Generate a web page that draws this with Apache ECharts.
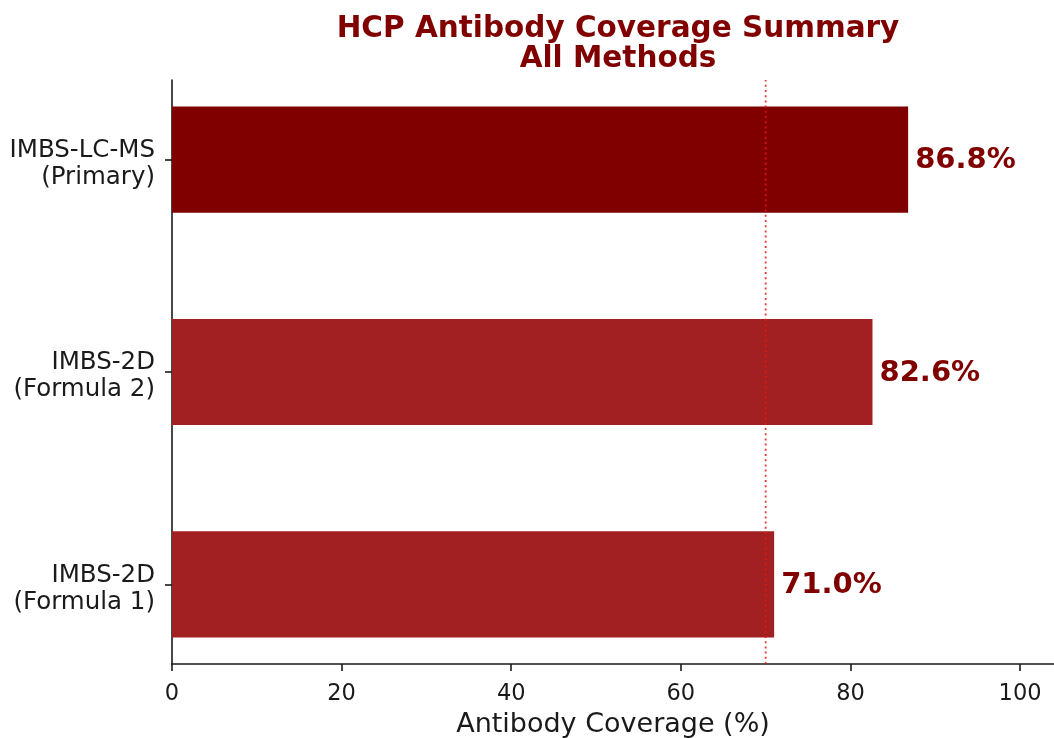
<!DOCTYPE html>
<html>
<head>
<meta charset="utf-8">
<title>HCP Antibody Coverage Summary</title>
<script src="https://cdn.jsdelivr.net/npm/echarts@6/dist/echarts.min.js"></script>
<style>
  html, body { margin: 0; padding: 0; background: #ffffff; }
  #chart { width: 1054px; height: 738px; }
</style>
</head>
<body>
<div id="chart"></div>
<script>
// Methods, bottom to top along the vertical axis
const methods = ['IMBS-2D\n(Formula 1)', 'IMBS-2D\n(Formula 2)', 'IMBS-LC-MS\n(Primary)'];
// Antibody coverage per method (%)
const coverage = [71.0, 82.6, 86.8];
// Tick values on the coverage axis
const xTicks = [0, 20, 40, 60, 80, 100];
// Reference coverage level (%)
const threshold = 70;

// Styling
const FONT = '"DejaVu Sans", "Liberation Sans", sans-serif';
const INK = '#1a1a1a';
const barColors = ['#a32022', '#a32022', '#800000'];
const BAR_HEIGHT = 0.5;
const Y_MIN = -0.375;
const Y_MAX = 2.375;

const barData = coverage.map((v, i) => [v, i]);

// Category label: a thin spacer line on top nudges the two text lines slightly below the tick
function methodLabel(v) {
  const lines = methods[Math.round(v)].split('\n');
  return '{s| }\n' + lines.map((t) => '{m|' + t + '}').join('\n');
}

const chart = echarts.init(document.getElementById('chart'), null, { renderer: 'canvas' });

chart.setOption({
  animation: false,
  backgroundColor: '#ffffff',
  title: {
    text: 'HCP Antibody Coverage Summary\nAll Methods',
    left: 618,
    top: 14,
    padding: 0,
    textAlign: 'center',
    textStyle: {
      fontFamily: FONT,
      fontSize: 29.5,
      fontWeight: 'bold',
      color: '#800000',
      lineHeight: 30
    }
  },
  grid: { left: 172, right: 0, top: 80, bottom: 74, containLabel: false, outerBoundsMode: 'none' },
  xAxis: {
    type: 'value',
    min: 0,
    max: 104,
    name: 'Antibody Coverage (%)',
    nameLocation: 'middle',
    nameGap: 47,
    nameTextStyle: { fontFamily: FONT, fontSize: 27, color: INK },
    axisLine: { show: true, onZero: false, lineStyle: { color: INK, width: 1.6 } },
    axisTick: { show: true, customValues: xTicks, length: 7, inside: false, lineStyle: { color: INK, width: 1.6 } },
    axisLabel: { customValues: xTicks, margin: 19, fontFamily: FONT, fontSize: 22.5, color: INK },
    splitLine: { show: false }
  },
  yAxis: {
    type: 'value',
    min: Y_MIN,
    max: Y_MAX,
    axisLine: { show: true, onZero: false, lineStyle: { color: INK, width: 1.6 } },
    axisTick: { show: true, customValues: [0, 1, 2], length: 7, inside: false, lineStyle: { color: INK, width: 1.6 } },
    axisLabel: {
      customValues: [0, 1, 2],
      margin: 17,
      color: INK,
      align: 'right',
      formatter: methodLabel,
      rich: {
        s: { fontFamily: FONT, fontSize: 4, lineHeight: 9, align: 'right' },
        m: { fontFamily: FONT, fontSize: 24.5, lineHeight: 27, color: INK, align: 'right' }
      }
    },
    splitLine: { show: false }
  },
  series: [
    {
      type: 'custom',
      name: 'Coverage',
      data: barData,
      encode: { x: 0, y: 1 },
      z: 2,
      renderItem: function (params, api) {
        const val = api.value(0);
        const idx = api.value(1);
        const start = api.coord([0, idx]);
        const end = api.coord([val, idx]);
        const h = api.size([0, BAR_HEIGHT])[1];
        return {
          type: 'group',
          children: [
            {
              type: 'rect',
              shape: { x: start[0], y: start[1] - h / 2, width: end[0] - start[0], height: h },
              style: { fill: barColors[idx] }
            },
            {
              type: 'text',
              x: end[0] + 7,
              y: end[1] + 1,
              style: {
                text: val.toFixed(1) + '%',
                fill: '#800000',
                fontFamily: FONT,
                fontSize: 29,
                fontWeight: 'bold',
                align: 'left',
                verticalAlign: 'middle'
              }
            }
          ]
        };
      }
    },
    {
      type: 'line',
      name: 'Threshold',
      data: [[threshold, Y_MIN], [threshold, Y_MAX]],
      symbol: 'none',
      z: 3,
      silent: true,
      lineStyle: { color: 'rgba(235, 20, 20, 0.85)', width: 1.8, type: [2, 3.2] }
    }
  ]
});
</script>
</body>
</html>
